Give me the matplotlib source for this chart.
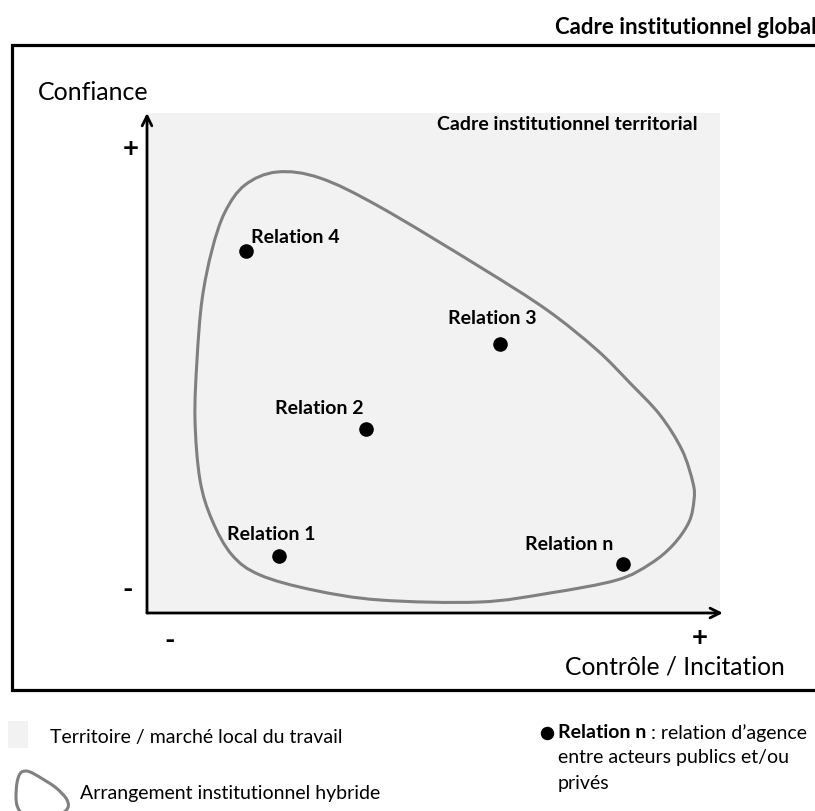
import matplotlib
matplotlib.use("Agg")
import matplotlib.pyplot as plt
import numpy as np
from matplotlib.path import Path
from matplotlib.patches import PathPatch, Rectangle

plt.rcParams["font.family"] = ["Lato", "DejaVu Sans"]

# relations on the (Contrôle / Incitation, Confiance) plane, 0..100
rel_names = ["Relation 4", "Relation 3", "Relation 2", "Relation 1", "Relation n"]
rel_ctrl = [17.3, 61.6, 38.2, 23.0, 83.1]
rel_conf = [72.4, 53.8, 36.8, 11.4, 9.8]
# label offsets in pixels (dx, dy) and alignment
lab_off = [(5, 13, "left"), (-8, 25, "center"), (-47, 20, "center"),
           (-8, 21, "center"), (-54, 20, "center")]

# outline of the hybrid arrangement (figure pixels)
blob_x = [277, 320, 380, 480, 547, 597, 630, 660, 682, 693, 694, 689, 673, 650,
          617, 550, 480, 380, 313, 260, 232, 212, 200, 195, 197, 202, 212, 225,
          245]
blob_y = [172, 178, 207, 267, 310, 350, 383, 415, 450, 483, 500, 522, 545, 564,
          580, 593, 602, 600, 590, 575, 555, 520, 480, 420, 360, 300, 250, 212,
          185]

W, H = 815, 811


def closed_curve(xs, ys):
    p = np.column_stack([xs, ys]).astype(float)
    n = len(p)
    verts = [p[0]]
    codes = [Path.MOVETO]
    for i in range(n):
        p0, p1, p2, p3 = p[i - 1], p[i], p[(i + 1) % n], p[(i + 2) % n]
        c1 = p1 + (p2 - p0) / 6
        c2 = p2 - (p3 - p1) / 6
        verts += [c1, c2, p2]
        codes += [Path.CURVE4] * 3
    return Path(verts, codes)


fig = plt.figure(figsize=(W / 100, H / 100), dpi=100)
bg = fig.add_axes([0, 0, 1, 1])
bg.set_xlim(0, W)
bg.set_ylim(H, 0)
bg.axis("off")

ax = fig.add_axes([147 / W, (H - 613) / H, 573 / W, 500 / H])
ax.set_facecolor("#f2f2f2")
ax.set_xlim(0, 100)
ax.set_ylim(0, 100)
for s in ax.spines.values():
    s.set_visible(False)
ax.set_xticks([])
ax.set_yticks([])

# outer frame
bg.plot([W + 5, 12, 12, W + 5], [45, 45, 690, 690], color="black", lw=2.3,
        solid_joinstyle="miter")

# blob
blob = closed_curve(blob_x, blob_y)
ax.add_patch(PathPatch(blob, facecolor="none", edgecolor="#808080", lw=2.2,
                       transform=bg.transData, clip_on=False))

# axes arrows
arr = dict(arrowstyle="->,head_length=0.7,head_width=0.35", lw=2.0,
           color="black", shrinkA=0, shrinkB=0)
ax.annotate("", xy=(0, 100), xytext=(0, 0), arrowprops=arr,
            annotation_clip=False)
ax.annotate("", xy=(100.5, 0), xytext=(0, 0), arrowprops=arr,
            annotation_clip=False)

# relations
ax.scatter(rel_ctrl, rel_conf, s=90, color="black", zorder=5, clip_on=False)
for name, x, y, (dx, dy, ha) in zip(rel_names, rel_ctrl, rel_conf, lab_off):
    ax.annotate(name, (x, y), xytext=(dx, dy), textcoords="offset pixels",
                ha=ha, va="center", fontsize=14, fontweight="bold")

# texts
bg.text(555, 27, "Cadre institutionnel global", fontsize=16,
        fontweight="bold", ha="left", va="center")
ax.text(437, 125, "Cadre institutionnel territorial", fontsize=14,
        fontweight="bold", ha="left", va="center", transform=bg.transData)
bg.text(38, 93, "Confiance", fontsize=18, ha="left", va="center")
bg.text(565, 667, "Contrôle / Incitation", fontsize=17.7, ha="left",
        va="center")
bg.text(131, 149, "+", fontsize=20, fontweight="bold", ha="center",
        va="center")
bg.text(128, 590, "-", fontsize=20, fontweight="bold", ha="center",
        va="center")
bg.text(170, 641, "-", fontsize=20, fontweight="bold", ha="center",
        va="center")
bg.text(700, 638, "+", fontsize=20, fontweight="bold", ha="center",
        va="center")

# legend
bg.add_patch(Rectangle((8, 721), 20, 27, facecolor="#f2f2f2",
                       edgecolor="none"))
bg.text(50, 737, "Territoire / marché local du travail", fontsize=14,
        ha="left", va="center")
mini_x = [16 + (x - 195) * 0.105 for x in blob_x]
mini_y = [771 + (y - 172) * 0.105 for y in blob_y]
bg.add_patch(PathPatch(closed_curve(mini_x, mini_y), facecolor="none",
                       edgecolor="#808080", lw=2.2))
bg.text(80, 793, "Arrangement institutionnel hybride", fontsize=14,
        ha="left", va="center")

bg.scatter([547], [733], s=75, color="black")
t = bg.text(558, 733, "Relation n", fontsize=14, fontweight="bold",
            ha="left", va="center")
bg.annotate(" : relation d’agence", xy=(1, 0.5), xycoords=t, fontsize=14,
            ha="left", va="center")
bg.text(558, 758, "entre acteurs publics et/ou", fontsize=14, ha="left",
        va="center")
bg.text(558, 783, "privés", fontsize=14, ha="left", va="center")

fig.savefig("out.png", dpi=100)
